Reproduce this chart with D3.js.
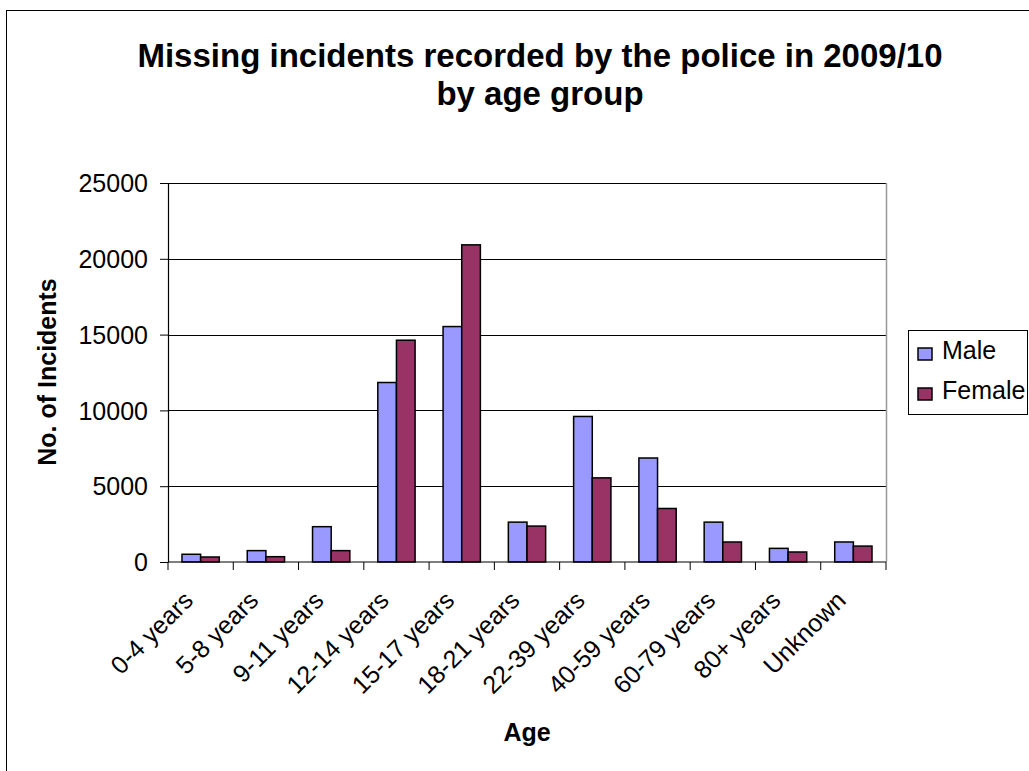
<!DOCTYPE html>
<html>
<head>
<meta charset="utf-8">
<script src="https://cdn.jsdelivr.net/npm/d3@7"></script>
<style>
  html, body { margin: 0; padding: 0; background: #fff; }
  svg { display: block; font-family: "Liberation Sans", Arial, sans-serif; }
</style>
</head>
<body>
<svg id="chart" width="1029" height="771"></svg>
<script>
// Missing incidents by age group, 2009/10
const categories = ["0-4 years", "5-8 years", "9-11 years", "12-14 years", "15-17 years",
  "18-21 years", "22-39 years", "40-59 years", "60-79 years", "80+ years", "Unknown"];
const maleValues = [510, 750, 2330, 11840, 15530, 2630, 9600, 6860, 2630, 900, 1320];
const femaleValues = [330, 350, 750, 14630, 20920, 2370, 5550, 3530, 1320, 660, 1050];
const yTicks = [0, 5000, 10000, 15000, 20000, 25000];
const seriesNames = ["Male", "Female"];
const seriesColors = ["#9999ff", "#993366"];

const FONT = "Liberation Sans, Arial, sans-serif";
const svg = d3.select("#chart");

// outer chart frame
svg.append("rect").attr("x", 6.5).attr("y", 10.5).attr("width", 1040).attr("height", 780)
  .attr("fill", "#fff").attr("stroke", "#000").attr("stroke-width", 1);

const plot = { left: 168, right: 886, top: 183, bottom: 562 };

const x0 = d3.scaleBand().domain(categories).range([plot.left, plot.right]).paddingInner(0).paddingOuter(0);
// gap width 150%: each group holds 2 bars plus 1.5 bar widths of space
const barW = x0.bandwidth() / 3.5;
const y = d3.scaleLinear().domain([0, 25000]).range([plot.bottom, plot.top]);

// gridlines
svg.append("g").selectAll("line").data(yTicks.filter(d => d > 0)).join("line")
  .attr("x1", plot.left).attr("x2", plot.right)
  .attr("y1", d => Math.round(y(d)) + 0.5).attr("y2", d => Math.round(y(d)) + 0.5)
  .attr("stroke", "#000").attr("stroke-width", 1);

// plot-area right border
svg.append("line").attr("x1", plot.right + 0.5).attr("x2", plot.right + 0.5)
  .attr("y1", plot.top).attr("y2", plot.bottom).attr("stroke", "#999").attr("stroke-width", 1.5);

const rows = categories.map((c, i) => ({ cat: c, vals: [maleValues[i], femaleValues[i]] }));

const groups = svg.append("g").selectAll("g").data(rows).join("g");
groups.selectAll("rect").data(d => d.vals.map((v, j) => ({ cat: d.cat, v, j }))).join("rect")
  .attr("x", d => x0(d.cat) + barW * 0.75 + d.j * barW)
  .attr("y", d => y(d.v))
  .attr("width", barW)
  .attr("height", d => y(0) - y(d.v))
  .attr("fill", d => seriesColors[d.j])
  .attr("stroke", "#000").attr("stroke-width", 1.5);

// y axis
const yAxis = d3.axisLeft(y).tickValues(yTicks).tickFormat(d3.format("d"))
  .tickSize(8).tickPadding(12).tickSizeOuter(0);
const yg = svg.append("g").attr("transform", `translate(${plot.left},0)`).call(yAxis);
yg.select(".domain").attr("stroke", "#000").attr("stroke-width", 1.2);
yg.selectAll(".tick line").attr("stroke", "#000");
yg.selectAll("text").attr("font-size", 25).attr("fill", "#000").attr("font-family", FONT)
  .attr("dy", "0.35em");

// x axis (ticks on category boundaries)
const xg = svg.append("g").attr("transform", `translate(0,${plot.bottom})`);
xg.append("line").attr("x1", plot.left).attr("x2", plot.right).attr("stroke", "#000").attr("stroke-width", 1.2);
const boundaries = categories.map(c => x0(c)).concat([plot.right]);
xg.selectAll("line.tk").data(boundaries).join("line").attr("class", "tk")
  .attr("x1", d => d).attr("x2", d => d).attr("y1", 0).attr("y2", 8).attr("stroke", "#000");
xg.selectAll("text").data(categories).join("text")
  .attr("transform", d => `translate(${x0(d) + x0.bandwidth() / 2 - 6},${40}) rotate(-45)`)
  .attr("text-anchor", "end")
  .attr("font-size", 25)
  .text(d => d);

// titles
const title = svg.append("text").attr("x", 540).attr("text-anchor", "middle")
  .attr("font-size", 33).attr("font-weight", "bold");
title.append("tspan").attr("x", 540).attr("y", 67).text("Missing incidents recorded by the police in 2009/10");
title.append("tspan").attr("x", 540).attr("y", 105).text("by age group");

svg.append("text").attr("x", 527).attr("y", 741).attr("text-anchor", "middle")
  .attr("font-size", 25).attr("font-weight", "bold").text("Age");

svg.append("text").attr("transform", "translate(56,372) rotate(-90)").attr("text-anchor", "middle")
  .attr("font-size", 25).attr("font-weight", "bold").text("No. of Incidents");

// legend
const lg = svg.append("g").attr("transform", "translate(908,330)");
lg.append("rect").attr("x", 0.5).attr("y", 0.5).attr("width", 119).attr("height", 84)
  .attr("fill", "#fff").attr("stroke", "#000");
seriesNames.forEach((n, i) => {
  lg.append("rect").attr("x", 10).attr("y", 18 + i * 40).attr("width", 14).attr("height", 12)
    .attr("fill", seriesColors[i]).attr("stroke", "#000").attr("stroke-width", 1.5);
  lg.append("text").attr("x", 34).attr("y", 29 + i * 40).attr("font-size", 25).text(n);
});
</script>
</body>
</html>
